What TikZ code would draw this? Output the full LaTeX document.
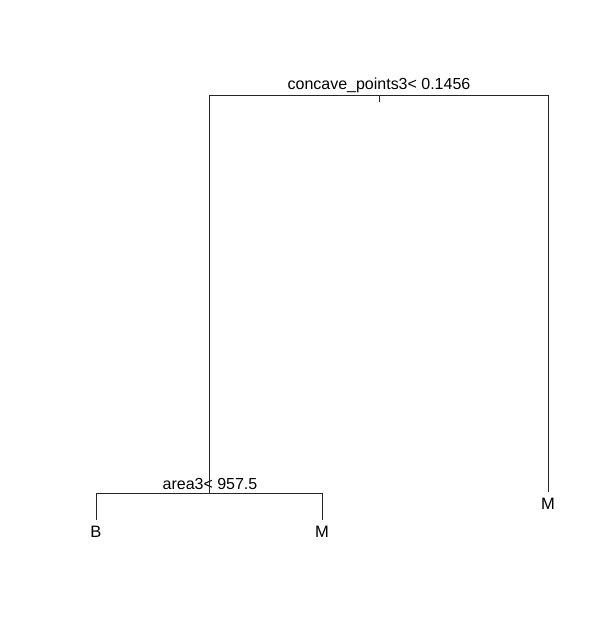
\documentclass[tikz,border=0pt]{standalone}
\usepackage{fontspec}
\setmainfont{Liberation Sans}
\tikzset{split/.style={anchor=base,inner sep=0pt,font=\fontsize{9.1}{11}\selectfont},
leaf/.style={anchor=base,inner sep=0pt,outer ysep=3.2pt,font=\fontsize{9.4}{11}\selectfont},
branch/.style={line width=.5pt,draw=black!85}}

\begin{document}
\begin{tikzpicture}[x=0.02cm,y=-0.02cm]
\useasboundingbox (0,0) rectangle (607,637);
\node[split] (root) at (379,89) {concave\_points3< 0.1456};
\coordinate (rootc) at (379,95);
\coordinate (rootl) at (209,95);
\coordinate (rootr) at (548,95);

\node[split] (n2) at (210,489) {area3< 957.5};
\coordinate (n2c) at (209,493);
\coordinate (n2l) at (96,493);
\coordinate (n2r) at (322,493);

\node[leaf] (leafB) at (96,537) {B};
\node[leaf] (leafM) at (322,537) {M};
\node[leaf] (leafMr) at (548,509) {M};

\draw[branch] (rootl) -- (rootr);
\draw[branch] (rootc) -- ++(0,7);
\draw[branch] (rootl) -- (n2c);
\draw[branch] (rootr) -- (leafMr);
\draw[branch] (n2l) -- (n2r);
\draw[branch] (n2l) -- (leafB);
\draw[branch] (n2r) -- (leafM);
\end{tikzpicture}
\end{document}
